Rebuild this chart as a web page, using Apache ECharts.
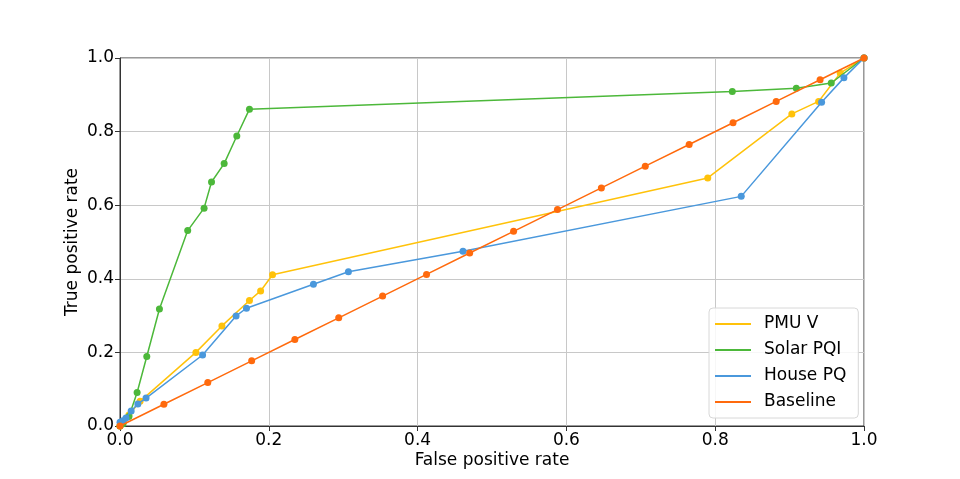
<!DOCTYPE html>
<html>
<head>
<meta charset="utf-8">
<script src="https://cdn.jsdelivr.net/npm/echarts@6/dist/echarts.min.js"></script>
<style>
html, body { margin: 0; padding: 0; background: #fff; }
#roc { width: 960px; height: 479px; }
</style>
</head>
<body>
<div id="roc"></div>
<script>
// ROC curves, points as [fpr, tpr]
var pmuV = [[0, 0], [0.005, 0.012], [0.012, 0.03], [0.027, 0.067], [0.102, 0.200], [0.137, 0.272],
	[0.174, 0.341], [0.189, 0.367], [0.205, 0.411], [0.790, 0.674], [0.903, 0.848],
	[0.939, 0.882], [0.968, 0.959], [1, 1]];
var solarPQI = [[0, 0], [0.004, 0.006], [0.012, 0.026], [0.023, 0.091], [0.036, 0.189], [0.053, 0.318],
	[0.091, 0.531], [0.113, 0.592], [0.123, 0.663], [0.140, 0.713], [0.157, 0.788],
	[0.174, 0.861], [0.823, 0.909], [0.909, 0.918], [0.956, 0.932], [1, 1]];
var housePQ = [[0, 0.01], [0.004, 0.014], [0.008, 0.022], [0.015, 0.041], [0.024, 0.060], [0.035, 0.076],
	[0.111, 0.193], [0.156, 0.299], [0.170, 0.320], [0.260, 0.385], [0.307, 0.419],
	[0.461, 0.475], [0.835, 0.624], [0.943, 0.880], [0.973, 0.946], [1, 1]];
var baseline = [[0, 0], [0.059, 0.059], [0.118, 0.118], [0.177, 0.177], [0.235, 0.235], [0.294, 0.294],
	[0.353, 0.353], [0.412, 0.412], [0.470, 0.470], [0.529, 0.529], [0.588, 0.588],
	[0.647, 0.647], [0.706, 0.706], [0.765, 0.765], [0.824, 0.824], [0.882, 0.882],
	[0.941, 0.941], [1, 1]];

var names = ["PMU V", "Solar PQI", "House PQ", "Baseline"];
var colors = ["#ffc20a", "#4cb83a", "#4a98dc", "#ff6a0d"];
var curves = [pmuV, solarPQI, housePQ, baseline];

var font = "DejaVu Sans";

function makeline(i){
	return {
		name: names[i],
		type: "line",
		data: curves[i],
		symbol: "circle",
		symbolSize: 7,
		showSymbol: true,
		lineStyle: {color: colors[i], width: 1.5},
		itemStyle: {color: colors[i]},
		animation: false,
		emphasis: {disabled: true},
		z: 2 + i
	};
}

function axis(title, gap){
	return {
		type: "value",
		min: 0,
		max: 1,
		interval: 0.2,
		name: title,
		nameLocation: "middle",
		nameGap: gap,
		nameMoveOverlap: false,
		nameTextStyle: {fontFamily: font, fontSize: 17, color: "#000"},
		axisLine: {show: true, onZero: false, lineStyle: {color: "#333", width: 1}},
		axisTick: {show: true, inside: false, length: 5, lineStyle: {color: "#333"}},
		axisLabel: {fontFamily: font, fontSize: 17, color: "#000", margin: 6,
			formatter: function(v){ return v.toFixed(1); }},
		splitLine: {show: true, lineStyle: {color: "#c8c8c8", width: 1}}
	};
}

var chart = echarts.init(document.getElementById("roc"), null, {renderer: "canvas"});
var xAxis = axis("False positive rate", 26);
var yAxis = axis("True positive rate", 39);

chart.setOption({
	backgroundColor: "#fff",
	animation: false,
	grid: {left: 120, right: 96, top: 58, bottom: 53, show: true, borderColor: "#333", borderWidth: 1,
		containLabel: false, outerBoundsMode: "none"},
	xAxis: xAxis,
	yAxis: yAxis,
	legend: {
		orient: "vertical",
		left: 709,
		top: 308,
		padding: [6, 12, 6, 6],
		itemGap: 6,
		itemWidth: 36,
		itemHeight: 2,
		icon: "rect",
		backgroundColor: "rgba(255,255,255,0.85)",
		borderColor: "#d8d8d8",
		borderWidth: 1,
		borderRadius: 4,
		textStyle: {fontFamily: font, fontSize: 17, color: "#000", lineHeight: 20, padding: [0, 0, 0, 8]},
		data: names.map(function(n, i){ return {name: n, itemStyle: {color: colors[i]}}; })
	},
	series: [makeline(0), makeline(1), makeline(2), makeline(3)]
});
</script>
</body>
</html>
